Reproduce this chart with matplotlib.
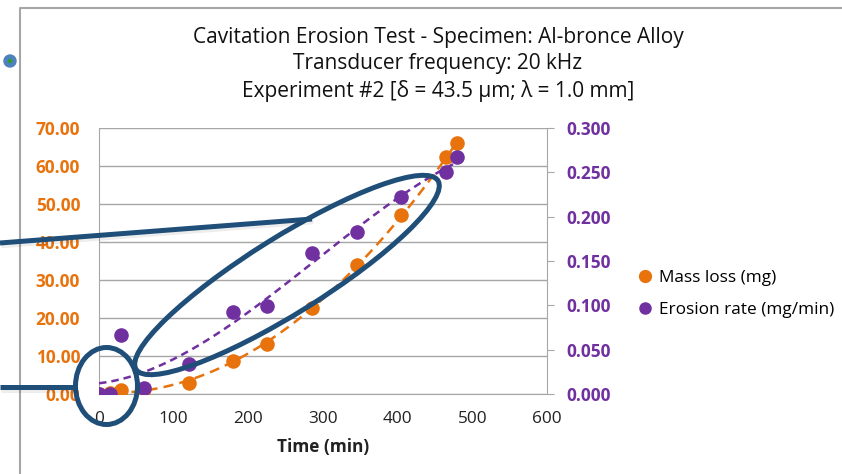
import numpy as np
import matplotlib.pyplot as plt
import matplotlib.patheffects as pe
from matplotlib.patches import Ellipse, Circle
from matplotlib.lines import Line2D
from matplotlib.ticker import FormatStrFormatter

plt.rcParams['font.family'] = ['Open Sans', 'DejaVu Sans']

# ensayo de cavitacion, probeta de Al-bronce
tiempo = [0, 15, 30, 60, 120, 180, 225, 285, 345, 405, 465, 480]
perdida_masa = [0.0, 0.2, 1.0, 1.2, 3.0, 8.7, 13.2, 22.6, 34.0, 47.0, 62.4, 66.0]
tasa_erosion = [0.0, 0.0, 0.066, 0.007, 0.034, 0.092, 0.099, 0.159, 0.183, 0.222, 0.250, 0.267]

titulo = ["Cavitation Erosion Test - Specimen: Al-bronce Alloy",
          "Transducer frequency: 20 kHz",
          "Experiment #2 [δ = 43.5 µm; λ = 1.0 mm]"]
ticks_x = [0, 100, 200, 300, 400, 500, 600]
ticks_masa = [0, 10, 20, 30, 40, 50, 60, 70]
ticks_tasa = [0.0, 0.05, 0.10, 0.15, 0.20, 0.25, 0.30]

NARANJA = '#E8720C'
VIOLETA = '#7030A0'
GRIS = '#A6A6A6'
AZUL = '#1F4E79'
TAM = 12.4

W, H = 842, 474
fig = plt.figure(figsize=(W / 100, H / 100), dpi=100)
ax = fig.add_axes([99 / W, 80 / H, 448 / W, 266 / H])

ax.set_xlim(0, 600)
ax.set_ylim(0, 70)
ax.set_xticks(ticks_x)
ax.set_yticks(ticks_masa)
ax.yaxis.set_major_formatter(FormatStrFormatter('%.2f'))
ax.grid(axis='y', color=GRIS, lw=1)
ax.set_axisbelow(True)
ax.tick_params(axis='y', length=0, pad=13.5, labelcolor=NARANJA, labelsize=TAM)
ax.tick_params(axis='x', length=0, pad=12, labelsize=TAM, labelcolor='#222222')
for lab in ax.get_yticklabels():
    lab.set_fontweight('bold')
for lado in ['top', 'right']:
    ax.spines[lado].set_visible(False)
for lado in ['left', 'bottom']:
    ax.spines[lado].set_color(GRIS)
ax.set_xlabel('Time (min)', fontsize=TAM, fontweight='bold', color='#222222', labelpad=8)

ax2 = ax.twinx()
ax2.set_ylim(0, 0.3)
ax2.set_yticks(ticks_tasa)
ax2.yaxis.set_major_formatter(FormatStrFormatter('%.3f'))
ax2.tick_params(axis='y', length=5, color=GRIS, pad=9, labelcolor=VIOLETA, labelsize=TAM)
for lab in ax2.get_yticklabels():
    lab.set_fontweight('bold')
for lado in ['top', 'left', 'bottom']:
    ax2.spines[lado].set_visible(False)
ax2.spines['right'].set_color(GRIS)

# lineas de tendencia polinomicas
x_fit = np.linspace(0, 480, 200)
c_masa = np.polyfit(tiempo, perdida_masa, 2)
c_tasa = np.polyfit(tiempo, tasa_erosion, 3)
ax.plot(x_fit, np.polyval(c_masa, x_fit), color=NARANJA, lw=1.8, dashes=(4, 2.5), zorder=2)
ax2.plot(x_fit, np.polyval(c_tasa, x_fit), color=VIOLETA, lw=1.8, dashes=(3, 2), zorder=2)

ax.scatter(tiempo, perdida_masa, s=110, color=NARANJA, zorder=3, linewidths=0)
ax2.scatter(tiempo, tasa_erosion, s=110, color=VIOLETA, zorder=3, linewidths=0)

for i, linea in enumerate(titulo):
    fig.text(438 / W, 1 - (37 + i * 27) / H, linea, ha='center', va='center',
             fontsize=15, color='#111111')

handles = [Line2D([], [], ls='none', marker='o', ms=8.5, color=NARANJA),
           Line2D([], [], ls='none', marker='o', ms=8, color=VIOLETA)]
fig.legend(handles, ['Mass loss (mg)', 'Erosion rate (mg/min)'], loc='center left',
           bbox_to_anchor=(628 / W, 1 - 294 / H), frameon=False, fontsize=TAM,
           handletextpad=0.3, handlelength=1.0, labelspacing=0.95, borderpad=0)

# capa superior en pixeles: marco, elipses y conectores
ov = fig.add_axes([0, 0, 1, 1], facecolor='none')
ov.set_xlim(0, W)
ov.set_ylim(H, 0)
ov.axis('off')
ov.plot([20, 20, W], [H, 8, 8], color=GRIS, lw=1.5)
ov.add_patch(Circle((10, 61), 6, color='#4F81BD'))
ov.add_patch(Circle((10, 61), 1.5, color='#2E9E2E'))

sombra = [pe.SimpleLineShadow(offset=(1, -2), alpha=0.07, shadow_color='k'), pe.Normal()]
ov.plot([0, 312], [243, 219], color=AZUL, lw=3.6, solid_capstyle='butt', path_effects=sombra)
ov.plot([0, 76], [387, 387], color=AZUL, lw=3.6, solid_capstyle='butt', path_effects=sombra)
ov.add_patch(Ellipse((287, 275), 356, 76, angle=-32, fill=False, ec=AZUL, lw=3.6))
ov.add_patch(Ellipse((106.5, 386), 62, 77, fill=False, ec=AZUL, lw=3.6))

fig.savefig('out.png', dpi=100)
